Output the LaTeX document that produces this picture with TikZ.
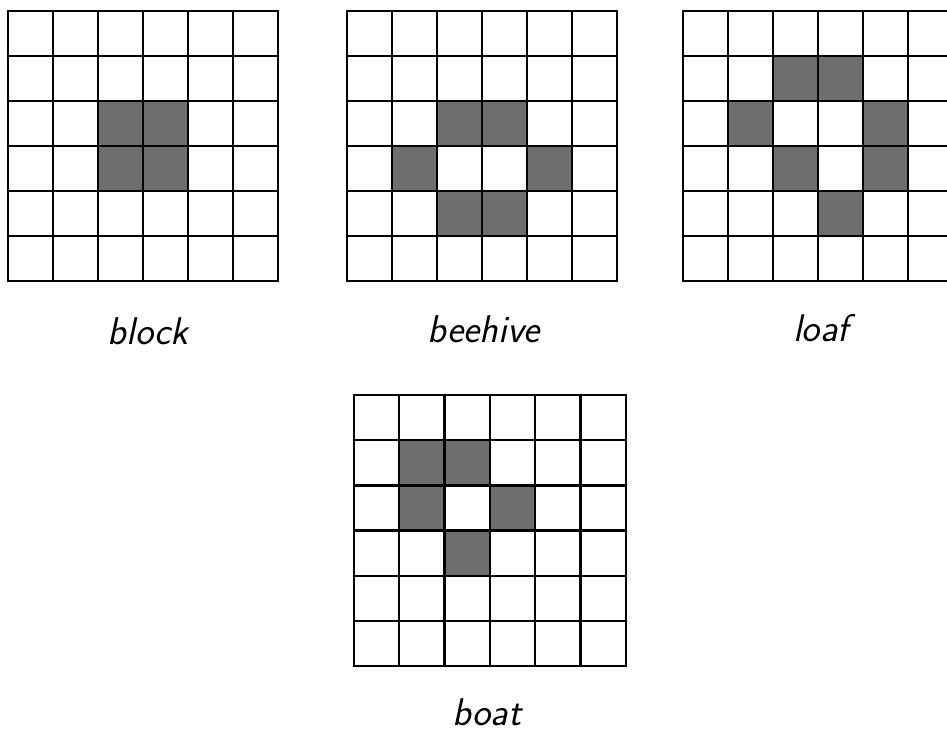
\documentclass[tikz,border=0pt]{standalone}
\usepackage{tikz}

\tikzset{
  gridline/.style={line width=1.3pt, line cap=round},
  livecell/.style={fill=black!57},
  lbl/.style={font=\fontsize{22}{25}\selectfont\sffamily\slshape, inner sep=0pt}
}

\begin{document}
\begin{tikzpicture}[x=0.02cm, y=-0.02cm]
    \useasboundingbox (0,0) rectangle (947,731);
    \clip (0,0) rectangle (947,731);

    % block
    \begin{scope}[shift={(8,11)}]
        \foreach \c/\r in {2/2, 3/2, 2/3, 3/3}
            \fill[livecell] (\c*45,\r*45) rectangle ++(45,45);
        \foreach \i in {0,...,6} {
            \draw[gridline] (\i*45,0) -- (\i*45,270);
            \draw[gridline] (0,\i*45) -- (270,\i*45);
        }
    \end{scope}
    \node[lbl] (block) at (148,331) {block};

    % beehive
    \begin{scope}[shift={(347,11)}]
        \foreach \c/\r in {2/2, 3/2, 1/3, 4/3, 2/4, 3/4}
            \fill[livecell] (\c*45,\r*45) rectangle ++(45,45);
        \foreach \i in {0,...,6} {
            \draw[gridline] (\i*45,0) -- (\i*45,270);
            \draw[gridline] (0,\i*45) -- (270,\i*45);
        }
    \end{scope}
    \node[lbl] (beehive) at (484,329) {beehive};

    % loaf (right edge cut off)
    \begin{scope}[shift={(683,11)}]
        \foreach \c/\r in {2/1, 3/1, 1/2, 4/2, 2/3, 4/3, 3/4}
            \fill[livecell] (\c*45,\r*45) rectangle ++(45,45);
        \foreach \i in {0,...,6} {
            \draw[gridline] (\i*45,0) -- (\i*45,270);
            \draw[gridline] (0,\i*45) -- (270,\i*45);
        }
    \end{scope}
    \node[lbl] (loaf) at (821,328) {loaf};

    % boat
    \begin{scope}[shift={(354,395)}]
        \foreach \c/\r in {1/1, 2/1, 1/2, 3/2, 2/3}
            \fill[livecell] (\c*45.3,\r*45.2) rectangle ++(45.3,45.2);
        \foreach \i in {0,...,6} {
            \draw[gridline] (\i*45.3,0) -- (\i*45.3,271);
            \draw[gridline] (0,\i*45.2) -- (272,\i*45.2);
        }
    \end{scope}
    \node[lbl] (boat) at (487,712) {boat};
\end{tikzpicture}
\end{document}
